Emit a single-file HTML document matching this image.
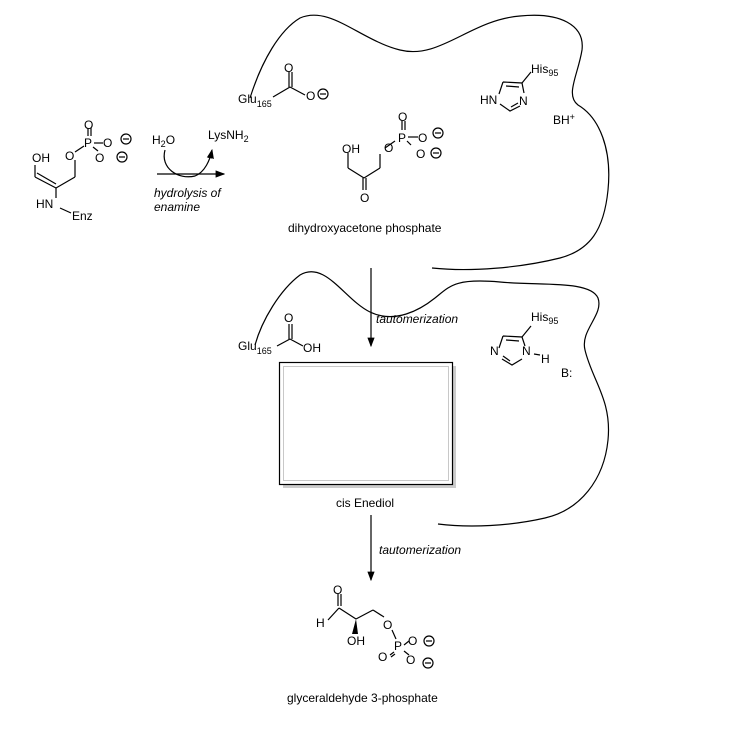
<!DOCTYPE html>
<html><head><style>
body{margin:0;background:#fff;}
svg text{font-family:"Liberation Sans",sans-serif;font-size:12px;fill:#000;}
.i{font-style:italic;}
</style></head><body>
<svg width="730" height="724" viewBox="0 0 730 724" xmlns="http://www.w3.org/2000/svg">
<defs><marker id="ar" markerWidth="8" markerHeight="8" refX="7" refY="4" orient="auto"><path d="M0,1 L8,4 L0,7 z" fill="#000"/></marker></defs>
<g fill="none" stroke="#000" stroke-width="1.2">
<path d="M250,98 C262,60 280,30 300,18 C330,5 360,40 400,50 C440,60 470,20 520,16 C560,12 585,25 582,50 C578,75 565,95 578,105 C600,118 612,150 608,190 C604,230 590,250 560,258 C520,268 470,272 432,268"/>
<path d="M255,345 C262,320 280,290 300,275 C325,260 345,300 370,312 C395,324 420,310 435,298 C450,286 455,278 500,282 C540,286 590,280 598,298 C604,315 580,330 585,350 C592,380 612,400 608,440 C604,480 580,510 545,518 C510,526 470,528 438,524"/>
<line x1="35" y1="165" x2="35" y2="177"/>
<line x1="35" y1="177" x2="56" y2="188"/><line x1="37" y1="173" x2="56" y2="184"/>
<line x1="56" y1="188" x2="75" y2="177"/>
<line x1="75" y1="177" x2="75" y2="160"/>
<line x1="56" y1="188" x2="56" y2="198"/>
<line x1="60" y1="208" x2="71" y2="213"/>
<line x1="75" y1="152" x2="84" y2="146"/>
<line x1="88" y1="128" x2="88" y2="136"/><line x1="91" y1="128" x2="91" y2="136"/>
<line x1="94" y1="143" x2="103" y2="143"/>
<line x1="93" y1="147" x2="98" y2="151"/>
<line x1="157" y1="174" x2="224" y2="174" marker-end="url(#ar)"/>
<path d="M165,150 C160,168 178,180 195,176 C205,172 210,160 212,150" marker-end="url(#ar)"/>
<line x1="273" y1="97" x2="290" y2="87"/>
<line x1="290" y1="87" x2="305" y2="95"/>
<line x1="289" y1="72" x2="289" y2="87"/><line x1="292" y1="72" x2="292" y2="87"/>
<circle cx="323" cy="94" r="5"/><line x1="320" y1="94" x2="326" y2="94"/>
<line x1="348" y1="153" x2="348" y2="168"/>
<line x1="348" y1="168" x2="364" y2="178"/>
<line x1="364" y1="178" x2="380" y2="168"/>
<line x1="380" y1="168" x2="380" y2="154"/>
<line x1="363" y1="178" x2="363" y2="190"/><line x1="366" y1="178" x2="366" y2="190"/>
<line x1="385" y1="148" x2="395" y2="141"/>
<line x1="402" y1="121" x2="402" y2="130"/><line x1="405" y1="121" x2="405" y2="130"/>
<line x1="408" y1="137" x2="418" y2="137"/>
<line x1="407" y1="141" x2="411" y2="145"/>
<circle cx="438" cy="133" r="5"/><line x1="435" y1="133" x2="441" y2="133"/>
<circle cx="436" cy="153" r="5"/><line x1="433" y1="153" x2="439" y2="153"/>
<circle cx="126" cy="139" r="5"/><line x1="123" y1="139" x2="129" y2="139"/>
<circle cx="122" cy="157" r="5"/><line x1="119" y1="157" x2="125" y2="157"/>
<!-- imidazole top -->
<path d="M503,82 L522,83 L524,93 M520,106 L510,111 L500,104 M499,94 L503,82"/>
<path d="M506,86 L519,87 M511,107 L518,103"/>
<line x1="522" y1="83" x2="531" y2="72"/>
<line x1="371" y1="268" x2="371" y2="346" marker-end="url(#ar)"/>
<line x1="277" y1="346" x2="290" y2="339"/>
<line x1="290" y1="339" x2="303" y2="346"/>
<line x1="289" y1="324" x2="289" y2="339"/><line x1="292" y1="324" x2="292" y2="339"/>
<!-- imidazole mid -->
<path d="M503,336 L522,337 L525,346 M522,359 L512,365 L502,359 M499,348 L503,336"/>
<path d="M506,340 L519,341 M503,356 L510,361"/>
<line x1="522" y1="337" x2="531" y2="326"/>
<line x1="534" y1="354" x2="540" y2="355"/>
<rect x="283" y="366" width="173" height="122" fill="#ccc" stroke="none"/>
<rect x="279.5" y="362.5" width="173" height="122" fill="#fff" stroke="#000"/>
<rect x="283.5" y="366.5" width="165" height="114" fill="#fff" stroke="#bbb" stroke-width="0.8"/>
<line x1="371" y1="515" x2="371" y2="580" marker-end="url(#ar)"/>
<line x1="338" y1="594" x2="338" y2="606"/><line x1="341" y1="594" x2="341" y2="606"/>
<line x1="328" y1="620" x2="339" y2="608"/>
<line x1="339" y1="608" x2="356" y2="619"/>
<line x1="356" y1="619" x2="373" y2="610"/>
<line x1="373" y1="610" x2="384" y2="617"/>
<line x1="392" y1="630" x2="396" y2="639"/>
<line x1="391" y1="657" x2="395" y2="654"/><line x1="390" y1="655" x2="394" y2="652"/>
<line x1="404" y1="645" x2="409" y2="641"/>
<line x1="404" y1="651" x2="409" y2="655"/>
<circle cx="429" cy="641" r="5"/><line x1="426" y1="641" x2="432" y2="641"/>
<circle cx="428" cy="663" r="5"/><line x1="425" y1="663" x2="431" y2="663"/>
</g>
<path d="M356,619 L352,634 L358,634 z" fill="#000"/>
<text x="84" y="129">O</text><text x="84" y="147">P</text><text x="103" y="147">O</text><text x="95" y="162">O</text>
<text x="65" y="160">O</text><text x="32" y="162">OH</text>
<text x="36" y="208">HN</text><text x="72" y="220">Enz</text>
<text x="152" y="144">H<tspan font-size="9" dy="3">2</tspan><tspan dy="-3">O</tspan></text>
<text x="208" y="139">LysNH<tspan font-size="9" dy="3">2</tspan></text>
<text class="i" x="154" y="197">hydrolysis of</text><text class="i" x="154" y="211">enamine</text>
<text x="284" y="72">O</text><text x="306" y="100">O</text>
<text x="238" y="103">Glu<tspan font-size="9" dy="4">165</tspan></text>
<text x="398" y="121">O</text><text x="398" y="142">P</text><text x="418" y="142">O</text><text x="416" y="158">O</text>
<text x="384" y="152">O</text><text x="342" y="153">OH</text><text x="360" y="202">O</text>
<text x="288" y="232">dihydroxyacetone phosphate</text>
<text x="480" y="104">HN</text><text x="519" y="105">N</text>
<text x="531" y="73">His<tspan font-size="9" dy="3">95</tspan></text>
<text x="553" y="124">BH<tspan font-size="9" dy="-4">+</tspan></text>
<text class="i" x="376" y="323">tautomerization</text>
<text x="284" y="322">O</text><text x="303" y="352">OH</text>
<text x="238" y="350">Glu<tspan font-size="9" dy="4">165</tspan></text>
<text x="490" y="355">N</text><text x="522" y="355">N</text><text x="541" y="363">H</text>
<text x="531" y="321">His<tspan font-size="9" dy="3">95</tspan></text>
<text x="561" y="377">B:</text>
<text x="336" y="507">cis Enediol</text>
<text class="i" x="379" y="554">tautomerization</text>
<text x="333" y="594">O</text><text x="316" y="627">H</text><text x="347" y="645">OH</text>
<text x="383" y="629">O</text><text x="394" y="650">P</text><text x="378" y="661">O</text>
<text x="408" y="645">O</text><text x="406" y="664">O</text>
<text x="287" y="702">glyceraldehyde 3-phosphate</text>
</svg>
</body></html>
